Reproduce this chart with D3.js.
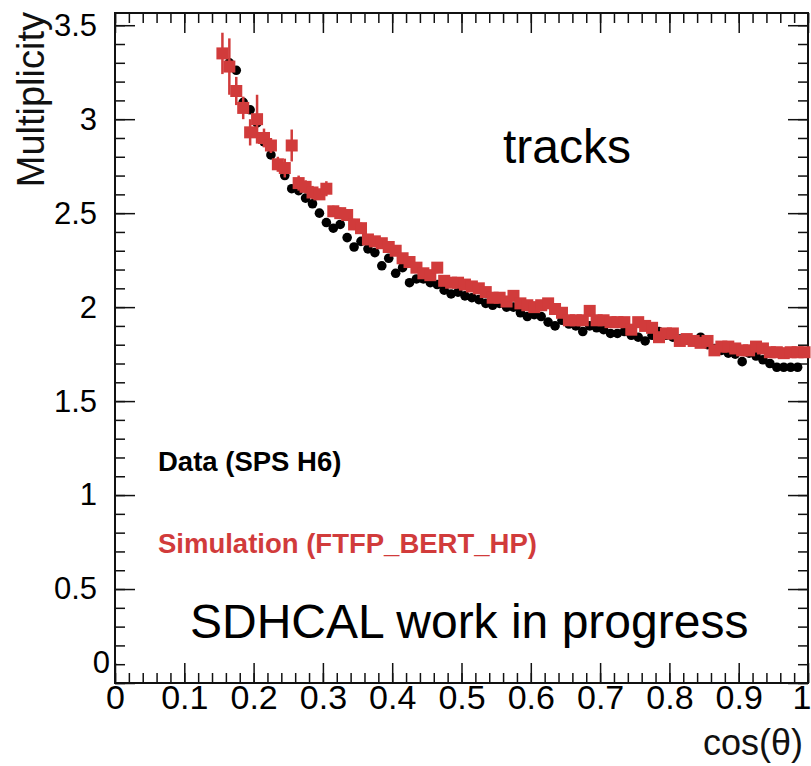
<!DOCTYPE html>
<html>
<head>
<meta charset="utf-8">
<script src="https://cdn.jsdelivr.net/npm/d3@7"></script>
<style>
  body { margin: 0; background: #fff; }
  text { font-family: "Liberation Sans", Arial, sans-serif; }
</style>
</head>
<body>
<div id="chart"></div>
<script>
// Data (SPS H6) - black circles
var dataX = [0.165, 0.175, 0.185, 0.195, 0.205, 0.215, 0.225, 0.235, 0.245, 0.255,
  0.265, 0.275, 0.285, 0.295, 0.305, 0.315, 0.325, 0.335, 0.345, 0.355,
  0.365, 0.375, 0.385, 0.395, 0.405, 0.415, 0.425, 0.435, 0.445, 0.455,
  0.465, 0.475, 0.485, 0.495, 0.505, 0.515, 0.525, 0.535, 0.545, 0.555,
  0.565, 0.575, 0.585, 0.595, 0.605, 0.615, 0.625, 0.635, 0.645, 0.655,
  0.665, 0.675, 0.685, 0.695, 0.705, 0.715, 0.725, 0.735, 0.745, 0.755,
  0.765, 0.775, 0.785, 0.795, 0.805, 0.815, 0.825, 0.835, 0.845, 0.855,
  0.865, 0.875, 0.885, 0.895, 0.905, 0.915, 0.925, 0.935, 0.945, 0.955,
  0.965, 0.975, 0.985];
var dataY = [3.30, 3.26, 3.09, 3.05, 2.98, 2.88, 2.81, 2.76, 2.70, 2.63,
  2.62, 2.58, 2.55, 2.50, 2.45, 2.42, 2.44, 2.37, 2.32, 2.35,
  2.31, 2.29, 2.22, 2.26, 2.18, 2.21, 2.13, 2.15, 2.15, 2.13,
  2.12, 2.09, 2.07, 2.08, 2.06, 2.05, 2.04, 2.02, 2.01, 2.02,
  2.00, 2.00, 1.97, 1.95, 1.96, 1.95, 1.92, 1.90, 1.93, 1.91,
  1.90, 1.87, 1.90, 1.89, 1.88, 1.86, 1.86, 1.87, 1.85, 1.84,
  1.82, 1.85, 1.87, 1.85, 1.84, 1.83, 1.83, 1.82, 1.84, 1.80,
  1.78, 1.77, 1.755, 1.75, 1.71, 1.755, 1.74, 1.72, 1.70, 1.68,
  1.68, 1.68, 1.68];

// Simulation (FTFP_BERT_HP) - red squares with error bars
var simX = [0.155, 0.165, 0.175, 0.185, 0.195, 0.205, 0.215, 0.225, 0.235, 0.245,
  0.255, 0.265, 0.275, 0.285, 0.295, 0.305, 0.315, 0.325, 0.335, 0.345,
  0.355, 0.365, 0.375, 0.385, 0.395, 0.405, 0.415, 0.425, 0.435, 0.445,
  0.455, 0.465, 0.475, 0.485, 0.495, 0.505, 0.515, 0.525, 0.535, 0.545,
  0.555, 0.565, 0.575, 0.585, 0.595, 0.605, 0.615, 0.625, 0.635, 0.645,
  0.655, 0.665, 0.675, 0.685, 0.695, 0.705, 0.715, 0.725, 0.735, 0.745,
  0.755, 0.765, 0.775, 0.785, 0.795, 0.805, 0.815, 0.825, 0.835, 0.845,
  0.855, 0.865, 0.875, 0.885, 0.895, 0.905, 0.915, 0.925, 0.935, 0.945,
  0.955, 0.965, 0.975, 0.985, 0.995];
var simY = [3.35, 3.28, 3.15, 3.06, 2.93, 3.00, 2.90, 2.86, 2.76, 2.74,
  2.86, 2.66, 2.64, 2.61, 2.60, 2.63, 2.51, 2.50, 2.49, 2.44,
  2.42, 2.36, 2.35, 2.34, 2.32, 2.30, 2.26, 2.24, 2.21, 2.18,
  2.17, 2.21, 2.14, 2.13, 2.13, 2.12, 2.11, 2.10, 2.08, 2.05,
  2.05, 2.03, 2.06, 2.02, 2.01, 2.00, 2.01, 2.02, 1.99, 1.97,
  1.93, 1.93, 1.93, 1.98, 1.93, 1.93, 1.92, 1.92, 1.92, 1.88,
  1.92, 1.90, 1.89, 1.84, 1.86, 1.86, 1.82, 1.83, 1.82, 1.81,
  1.82, 1.77, 1.79, 1.79, 1.78, 1.77, 1.77, 1.79, 1.78, 1.76,
  1.76, 1.755, 1.76, 1.76, 1.76];
var simErr = [0.11, 0.15, 0.075, 0.06, 0.07, 0.13, 0.05, 0.04, 0.04, 0.05,
  0.085, 0.04, 0.035, 0.035, 0.03, 0.04, 0.03, 0.03, 0.03, 0.03,
  0.03, 0.025, 0.025, 0.025, 0.025, 0.025, 0.025, 0.025, 0.025, 0.025,
  0.025, 0.03, 0.02, 0.02, 0.02, 0.02, 0.02, 0.02, 0.02, 0.02,
  0.02, 0.02, 0.02, 0.02, 0.02, 0.02, 0.02, 0.02, 0.02, 0.02,
  0.02, 0.02, 0.02, 0.02, 0.02, 0.02, 0.02, 0.02, 0.02, 0.02,
  0.02, 0.02, 0.02, 0.02, 0.02, 0.02, 0.02, 0.02, 0.02, 0.02,
  0.02, 0.02, 0.02, 0.02, 0.02, 0.02, 0.02, 0.02, 0.02, 0.02,
  0.02, 0.02, 0.02, 0.02, 0.02];
var binHalf = 0.005;

var xTicks = [0, 0.1, 0.2, 0.3, 0.4, 0.5, 0.6, 0.7, 0.8, 0.9, 1];
var yTicks = [0, 0.5, 1, 1.5, 2, 2.5, 3, 3.5];

var redColor = "#d13b3b";

// set the dimensions of the frame
var W = 811, H = 766;
var frame = { left: 115, right: 808, top: 13, bottom: 683 };

var svg = d3.select("#chart")
  .append("svg")
  .attr("width", W)
  .attr("height", H);

svg.append("rect").attr("width", W).attr("height", H).attr("fill", "#fff");

var x = d3.scaleLinear()
  .domain([0, 1])
  .range([frame.left, frame.right]);
var y = d3.scaleLinear()
  .domain([0, 3.565])
  .range([frame.bottom, frame.top]);

var fmt = d3.format("~g");
var xMinor = d3.range(0, 1.0001, 0.02);
var yMinor = d3.range(0, 3.5001, 0.1);

// bottom axis (labels + ticks pointing inward)
var gx = svg.append("g")
  .attr("transform", "translate(0," + frame.bottom + ")")
  .call(d3.axisBottom(x).tickValues(xTicks).tickFormat(fmt).tickSizeInner(-20).tickSizeOuter(0).tickPadding(2));
gx.selectAll("text")
  .style("font-size", "34px")
  .attr("fill", "#000");
// keep the last label inside the picture
gx.selectAll(".tick text").filter(function (d) { return d === 1; })
  .attr("text-anchor", "end")
  .attr("x", 3);
svg.append("g")
  .attr("transform", "translate(0," + frame.bottom + ")")
  .call(d3.axisBottom(x).tickValues(xMinor).tickFormat("").tickSizeInner(-10).tickSizeOuter(0));

// top axis ticks
svg.append("g")
  .attr("transform", "translate(0," + frame.top + ")")
  .call(d3.axisTop(x).tickValues(xTicks).tickFormat("").tickSizeInner(-20).tickSizeOuter(0));
svg.append("g")
  .attr("transform", "translate(0," + frame.top + ")")
  .call(d3.axisTop(x).tickValues(xMinor).tickFormat("").tickSizeInner(-10).tickSizeOuter(0));

// left axis
var gy = svg.append("g")
  .attr("transform", "translate(" + frame.left + ",0)")
  .call(d3.axisLeft(y).tickValues(yTicks).tickFormat(fmt).tickSizeInner(-20).tickSizeOuter(0).tickPadding(18));
gy.selectAll("text")
  .style("font-size", "31px")
  .attr("fill", "#000");
// ROOT lifts the zero label above the x axis
gy.selectAll(".tick text").filter(function (d) { return d === 0; })
  .attr("dy", "-0.35em")
  .attr("x", -5);
svg.append("g")
  .attr("transform", "translate(" + frame.left + ",0)")
  .call(d3.axisLeft(y).tickValues(yMinor).tickFormat("").tickSizeInner(-10).tickSizeOuter(0));

// right axis ticks
svg.append("g")
  .attr("transform", "translate(" + frame.right + ",0)")
  .call(d3.axisRight(y).tickValues(yTicks).tickFormat("").tickSizeInner(-20).tickSizeOuter(0));
svg.append("g")
  .attr("transform", "translate(" + frame.right + ",0)")
  .call(d3.axisRight(y).tickValues(yMinor).tickFormat("").tickSizeInner(-10).tickSizeOuter(0));

svg.selectAll(".domain").remove();
svg.selectAll(".tick line").attr("stroke", "#111").attr("stroke-width", 1.5);

// frame
svg.append("rect")
  .attr("x", frame.left)
  .attr("y", frame.top)
  .attr("width", frame.right - frame.left)
  .attr("height", frame.bottom - frame.top)
  .attr("fill", "none")
  .attr("stroke", "#111")
  .attr("stroke-width", 2);

// data points
var dataPts = dataX.map(function (d, i) { return { x: d, y: dataY[i] }; });
svg.append("g").selectAll("circle")
  .data(dataPts)
  .enter().append("circle")
  .attr("cx", function (d) { return x(d.x); })
  .attr("cy", function (d) { return y(d.y); })
  .attr("r", 4.8)
  .attr("fill", "#000");

// simulation: error bars then squares
var simPts = simX.map(function (d, i) { return { x: d, y: simY[i], e: simErr[i] }; });
var gs = svg.append("g");
gs.selectAll("line.ey")
  .data(simPts)
  .enter().append("line")
  .attr("class", "ey")
  .attr("x1", function (d) { return x(d.x); })
  .attr("x2", function (d) { return x(d.x); })
  .attr("y1", function (d) { return y(d.y - d.e); })
  .attr("y2", function (d) { return y(d.y + d.e); })
  .attr("stroke", redColor)
  .attr("stroke-width", 2.5);
gs.selectAll("line.ex")
  .data(simPts)
  .enter().append("line")
  .attr("class", "ex")
  .attr("x1", function (d) { return x(d.x - binHalf); })
  .attr("x2", function (d) { return x(d.x + binHalf); })
  .attr("y1", function (d) { return y(d.y); })
  .attr("y2", function (d) { return y(d.y); })
  .attr("stroke", redColor)
  .attr("stroke-width", 2.5);
gs.selectAll("rect")
  .data(simPts)
  .enter().append("rect")
  .attr("x", function (d) { return x(d.x) - 6; })
  .attr("y", function (d) { return y(d.y) - 6; })
  .attr("width", 12)
  .attr("height", 12)
  .attr("fill", redColor);

// axis titles
svg.append("text")
  .attr("transform", "translate(44," + 12 + ") rotate(-90)")
  .attr("text-anchor", "end")
  .style("font-size", "38px")
  .attr("fill", "#111")
  .text("Multiplicity");

svg.append("text")
  .attr("x", 803)
  .attr("y", 755)
  .attr("text-anchor", "end")
  .style("font-size", "36px")
  .attr("fill", "#111")
  .text("cos(\u03b8)");

// annotations
svg.append("text")
  .attr("x", 503)
  .attr("y", 163)
  .style("font-size", "48px")
  .attr("fill", "#000")
  .text("tracks");

svg.append("text")
  .attr("x", 190)
  .attr("y", 638)
  .style("font-size", "48px")
  .attr("fill", "#000")
  .text("SDHCAL work in progress");

// legend
svg.append("text")
  .attr("x", 158)
  .attr("y", 471)
  .style("font-size", "27.5px")
  .style("font-weight", "bold")
  .attr("fill", "#000")
  .text("Data (SPS H6)");

svg.append("text")
  .attr("x", 158)
  .attr("y", 553)
  .style("font-size", "27.5px")
  .style("font-weight", "bold")
  .attr("fill", redColor)
  .text("Simulation (FTFP_BERT_HP)");
</script>
</body>
</html>
